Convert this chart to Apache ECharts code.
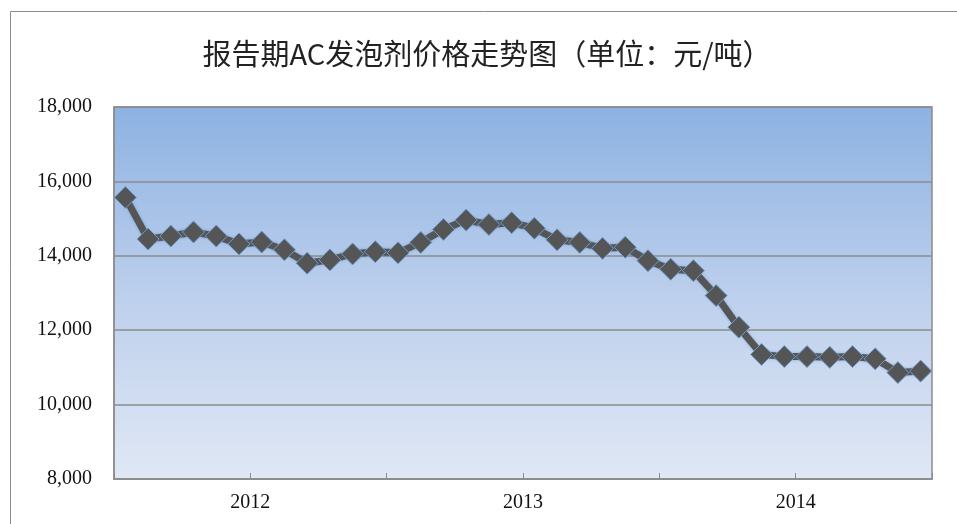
<!DOCTYPE html>
<html>
<head>
<meta charset="utf-8">
<script src="https://cdn.jsdelivr.net/npm/echarts@6/dist/echarts.min.js"></script>
<style>
html,body{margin:0;padding:0;background:#fff;}
#chart{width:957px;height:524px;}
</style>
</head>
<body>
<div id="chart"></div>
<script>
// Data
var titleText = '报告期AC发泡剂价格走势图（单位：元/吨）';
var months = [];
var years = ['2012', '2013', '2014'];
years.forEach(function (y) {
  for (var m = 1; m <= 12; m++) months.push(y + '-' + (m < 10 ? '0' + m : m));
});
var prices = [
  15570, 14450, 14530, 14640, 14530, 14320, 14370, 14160, 13800, 13890, 14050, 14110,
  14080, 14360, 14710, 14960, 14840, 14890, 14740, 14430, 14360, 14200, 14230, 13870,
  13640, 13600, 12930, 12080, 11350, 11290, 11290, 11270, 11290, 11230, 10860, 10900
];
var yMin = 8000, yMax = 18000, yStep = 2000;

var chart = echarts.init(document.getElementById('chart'), null, {renderer: 'canvas'});
chart.setOption({
  animation: false,
  backgroundColor: '#ffffff',
  title: {
    text: titleText,
    left: 482,
    textAlign: 'center',
    top: 34,
    textStyle: {
      fontFamily: 'Noto Sans CJK SC',
      fontWeight: 'normal',
      fontSize: 29,
      color: '#222'
    }
  },
  graphic: [{
    type: 'rect',
    silent: true,
    z: -10,
    shape: {x: 10.5, y: 11.5, width: 1000, height: 600},
    style: {fill: 'none', stroke: '#8c8c8c', lineWidth: 1}
  }],
  grid: {
    left: 114, right: 25, top: 107, bottom: 45,
    show: true,
    borderColor: '#8c8c8c',
    borderWidth: 1.5,
    backgroundColor: new echarts.graphic.LinearGradient(0, 0, 0, 1, [
      {offset: 0, color: '#8db2e2'},
      {offset: 0.5, color: '#bccfec'},
      {offset: 1, color: '#e0e8f5'}
    ])
  },
  xAxis: [{
    type: 'category',
    data: months,
    boundaryGap: true,
    axisLine: {lineStyle: {color: '#8c8c8c', width: 1.5}},
    axisTick: {show: true, inside: true, interval: 5, length: 6, lineStyle: {color: '#8c8c8c', width: 1}},
    axisLabel: {show: false},
    splitLine: {show: false}
  }, {
    type: 'category',
    data: years,
    position: 'bottom',
    boundaryGap: true,
    axisLine: {show: false},
    axisTick: {show: false},
    axisLabel: {
      margin: 14,
      fontFamily: 'Liberation Serif',
      fontSize: 20,
      color: '#111'
    },
    splitLine: {show: false}
  }],
  yAxis: {
    type: 'value',
    min: yMin, max: yMax, interval: yStep,
    axisLine: {show: true, lineStyle: {color: '#8c8c8c', width: 1.5}},
    axisTick: {show: false},
    axisLabel: {
      margin: 22,
      fontFamily: 'Liberation Serif',
      fontSize: 20,
      color: '#111',
      formatter: function (v) { return v.toLocaleString('en-US'); }
    },
    splitLine: {show: true, lineStyle: {color: '#8c8c8c', width: 1.5}}
  },
  series: [{
    type: 'line',
    xAxisIndex: 0,
    data: prices,
    symbol: 'diamond',
    symbolSize: 22,
    showSymbol: true,
    showAllSymbol: true,
    lineStyle: {
      color: '#555555', width: 7,
      shadowColor: 'rgba(60,100,150,0.45)', shadowBlur: 3
    },
    itemStyle: {
      color: '#555555',
      borderColor: '#6a9fd2',
      borderWidth: 1
    }
  }]
});
</script>
</body>
</html>
